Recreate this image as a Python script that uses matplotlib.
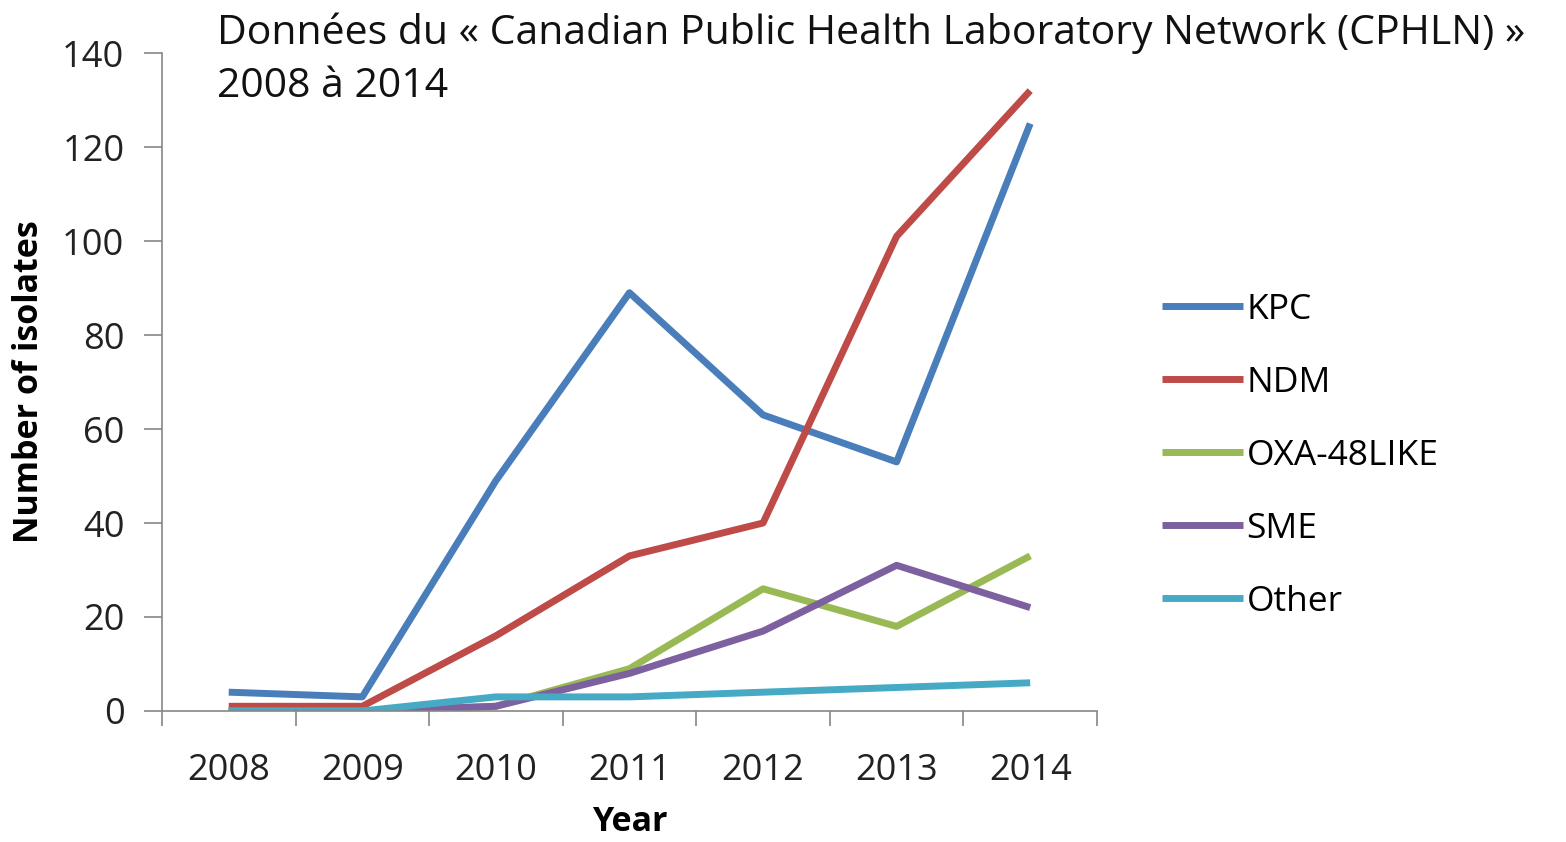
import matplotlib.pyplot as plt
import numpy as np

years = ["2008", "2009", "2010", "2011", "2012", "2013", "2014"]
kpc = [4, 3, 49, 89, 63, 53, 125]
ndm = [1, 1, 16, 33, 40, 101, 132]
oxa = [0, 0, 1, 9, 26, 18, 33]
sme = [0, 0, 1, 8, 17, 31, 22]
other = [0, 0, 3, 3, 4, 5, 6]

series = [
    ("KPC", kpc, "#4a7ebb"),
    ("NDM", ndm, "#be4b48"),
    ("OXA-48LIKE", oxa, "#98b954"),
    ("SME", sme, "#7d60a0"),
    ("Other", other, "#46aac5"),
]

plt.rcParams["font.family"] = ["Open Sans", "DejaVu Sans"]

fig = plt.figure(figsize=(15.66, 8.42), dpi=100)
ax = fig.add_axes([0.1034, 0.1556, 0.5971, 0.7814])

x = np.arange(len(years))
for name, vals, col in series:
    ax.plot(x, vals, color=col, lw=5, label=name, solid_capstyle="butt")

ax.set_xlim(-0.5, len(years) - 0.5)
ax.set_ylim(0, 140)
ax.set_yticks(range(0, 141, 20))
ax.set_xticks(x)
ax.set_xticklabels(years)
ax.set_xticks(np.arange(-0.5, len(years), 1), minor=True)
ax.tick_params(axis="x", which="major", length=0, pad=30, labelsize=26, colors="#222222")
ax.tick_params(axis="x", which="minor", length=11, width=1.2, color="#868686", direction="out")
ax.tick_params(axis="y", length=13, width=1.2, color="#868686", pad=14, labelsize=26, labelcolor="#222222")

for s in ["top", "right"]:
    ax.spines[s].set_visible(False)
for s in ["left", "bottom"]:
    ax.spines[s].set_color("#868686")
    ax.spines[s].set_linewidth(1.2)

ax.set_ylabel("Number of isolates", fontsize=24.5, fontweight="bold", labelpad=12)
ax.set_xlabel("Year", fontsize=24.5, fontweight="bold", labelpad=12)

fig.text(0.1386, 0.985, "Données du « Canadian Public Health Laboratory Network (CPHLN) »\n2008 à 2014",
         fontsize=29.5, va="top", ha="left", linespacing=1.42, color="#111111")

ax.legend(loc="center left", bbox_to_anchor=(1.035, 0.388), frameon=False, fontsize=25.5,
          handlelength=2.3, handletextpad=0.1, labelspacing=1.1)

fig.savefig("out.png", dpi=100)
